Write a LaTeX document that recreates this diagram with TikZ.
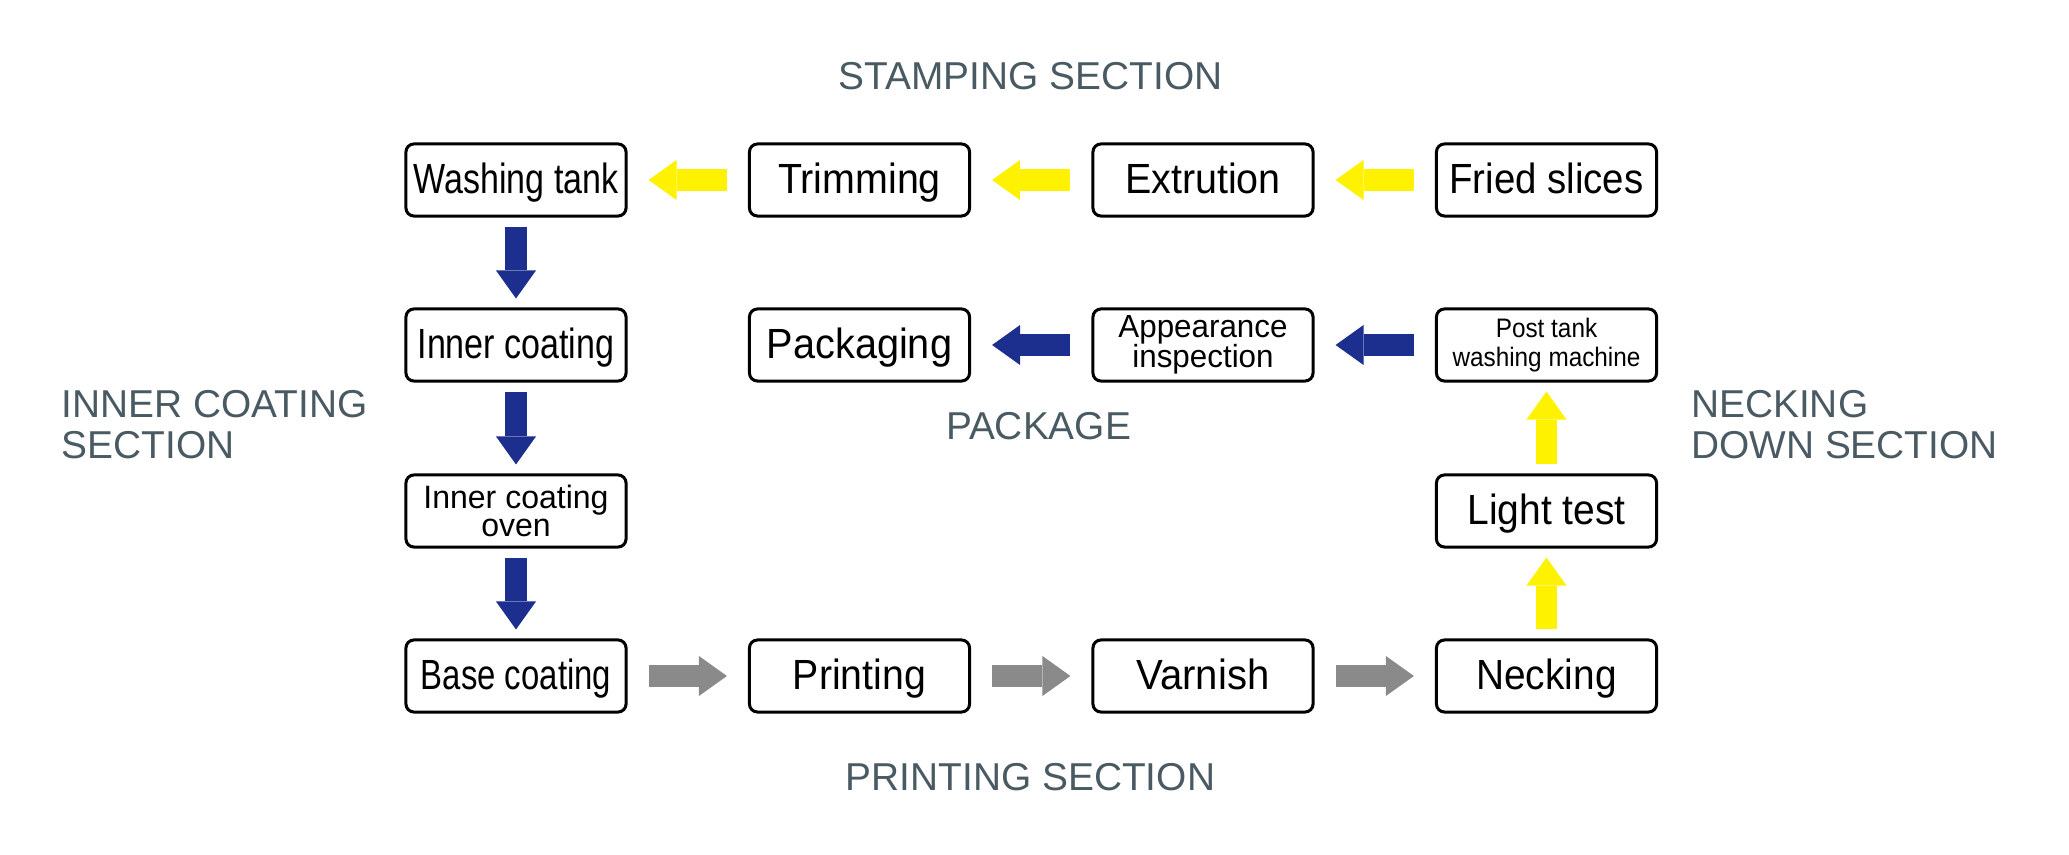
\documentclass[tikz,border=0pt]{standalone}
\usepackage{fontspec}
\setmainfont{Liberation Sans}
\usetikzlibrary{arrows.meta}
\definecolor{ayellow}{HTML}{FFF200}
\definecolor{anavy}{HTML}{1C2F8F}
\definecolor{agray}{HTML}{8A8A8A}
\definecolor{alabel}{HTML}{4A5A62}
\newcommand\bt[2]{\scalebox{#1}[1]{#2}}
\begin{document}
\begin{tikzpicture}[x=0.01cm,y=-0.01cm,
 box/.style={draw=black, line width=0.03cm, rounded corners=0.08cm, minimum width=2.2cm, minimum height=0.72cm, inner sep=0pt, font=\fontsize{12}{12}\selectfont, text height=8.6pt, text depth=1pt},
 box2/.style={draw=black, line width=0.03cm, rounded corners=0.08cm, minimum width=2.2cm, minimum height=0.72cm, inner sep=0pt, align=center},
 sect/.style={text=alabel, inner sep=0pt, font=\fontsize{11.05}{11.5}\selectfont},
 fat/.style={line width=0.21cm, -{Triangle[length=0.28cm,width=0.40cm,line width=0pt]}},
 hfat/.style={fat, shorten <=0.21cm, shorten >=0.21cm},
 vfat/.style={fat, shorten <=0.09cm, shorten >=0.09cm}]
\fill[white] (0,0) rectangle (2069,855);
\useasboundingbox (0,0) rectangle (2069,855);
% boxes
\node[box] (wash)  at (516,180)    {\bt{0.806}{Washing tank}};
\node[box] (trim)  at (859.5,180)  {\bt{0.934}{Trimming}};
\node[box] (ext)   at (1203,180)   {\bt{0.935}{Extrution}};
\node[box] (fried) at (1546.5,180) {\bt{0.91}{Fried slices}};
\node[box] (inner) at (516,345)    {\bt{0.807}{Inner coating}};
\node[box] (pack)  at (859.5,345)  {\bt{0.94}{Packaging}};
\node[box2, font=\fontsize{9.1}{8.6}\selectfont] (appear) at (1203,345) {\bt{0.98}{Appearance}\\\bt{0.98}{inspection}};
\node[box2, font=\fontsize{7.6}{8.25}\selectfont] (post) at (1546.5,345) {\bt{0.91}{Post tank}\\\bt{0.91}{washing machine}};
\node[box2, font=\fontsize{9.2}{8.0}\selectfont] (oven) at (516,511) {\bt{0.99}{Inner coating}\\\bt{0.99}{oven}};
\node[box] (light) at (1546.5,511) {\bt{0.924}{Light test}};
\node[box] (base)  at (516,676)    {\bt{0.78}{Base coating}};
\node[box] (print) at (859.5,676)  {\bt{0.93}{Printing}};
\node[box] (varn)  at (1203,676)   {\bt{0.95}{Varnish}};
\node[box] (neck)  at (1546.5,676) {\bt{0.92}{Necking}};
% section labels
\node[sect, anchor=base] (lstamp) at (1030.5,89.3) {STAMPING SECTION};
\node[sect, anchor=north west, align=left] (linner) at (61,390) {INNER COATING\\SECTION};
\node[sect, anchor=base] (lpack) at (1038.5,440) {PACKAGE};
\node[sect, anchor=north west, align=left] (lneck) at (1690.5,390) {NECKING\\DOWN SECTION};
\node[sect, anchor=base] (lprint) at (1030.5,790) {PRINTING SECTION};
% arrows
\draw[hfat, ayellow] (fried) -- (ext);
\draw[hfat, ayellow] (ext) -- (trim);
\draw[hfat, ayellow] (trim) -- (wash);
\draw[vfat, anavy] (wash) -- (inner);
\draw[vfat, anavy] (inner) -- (oven);
\draw[vfat, anavy] (oven) -- (base);
\draw[hfat, agray] (base) -- (print);
\draw[hfat, agray] (print) -- (varn);
\draw[hfat, agray] (varn) -- (neck);
\draw[vfat, ayellow] (neck) -- (light);
\draw[vfat, ayellow] (light) -- (post);
\draw[hfat, anavy] (post) -- (appear);
\draw[hfat, anavy] (appear) -- (pack);
\end{tikzpicture}
\end{document}
